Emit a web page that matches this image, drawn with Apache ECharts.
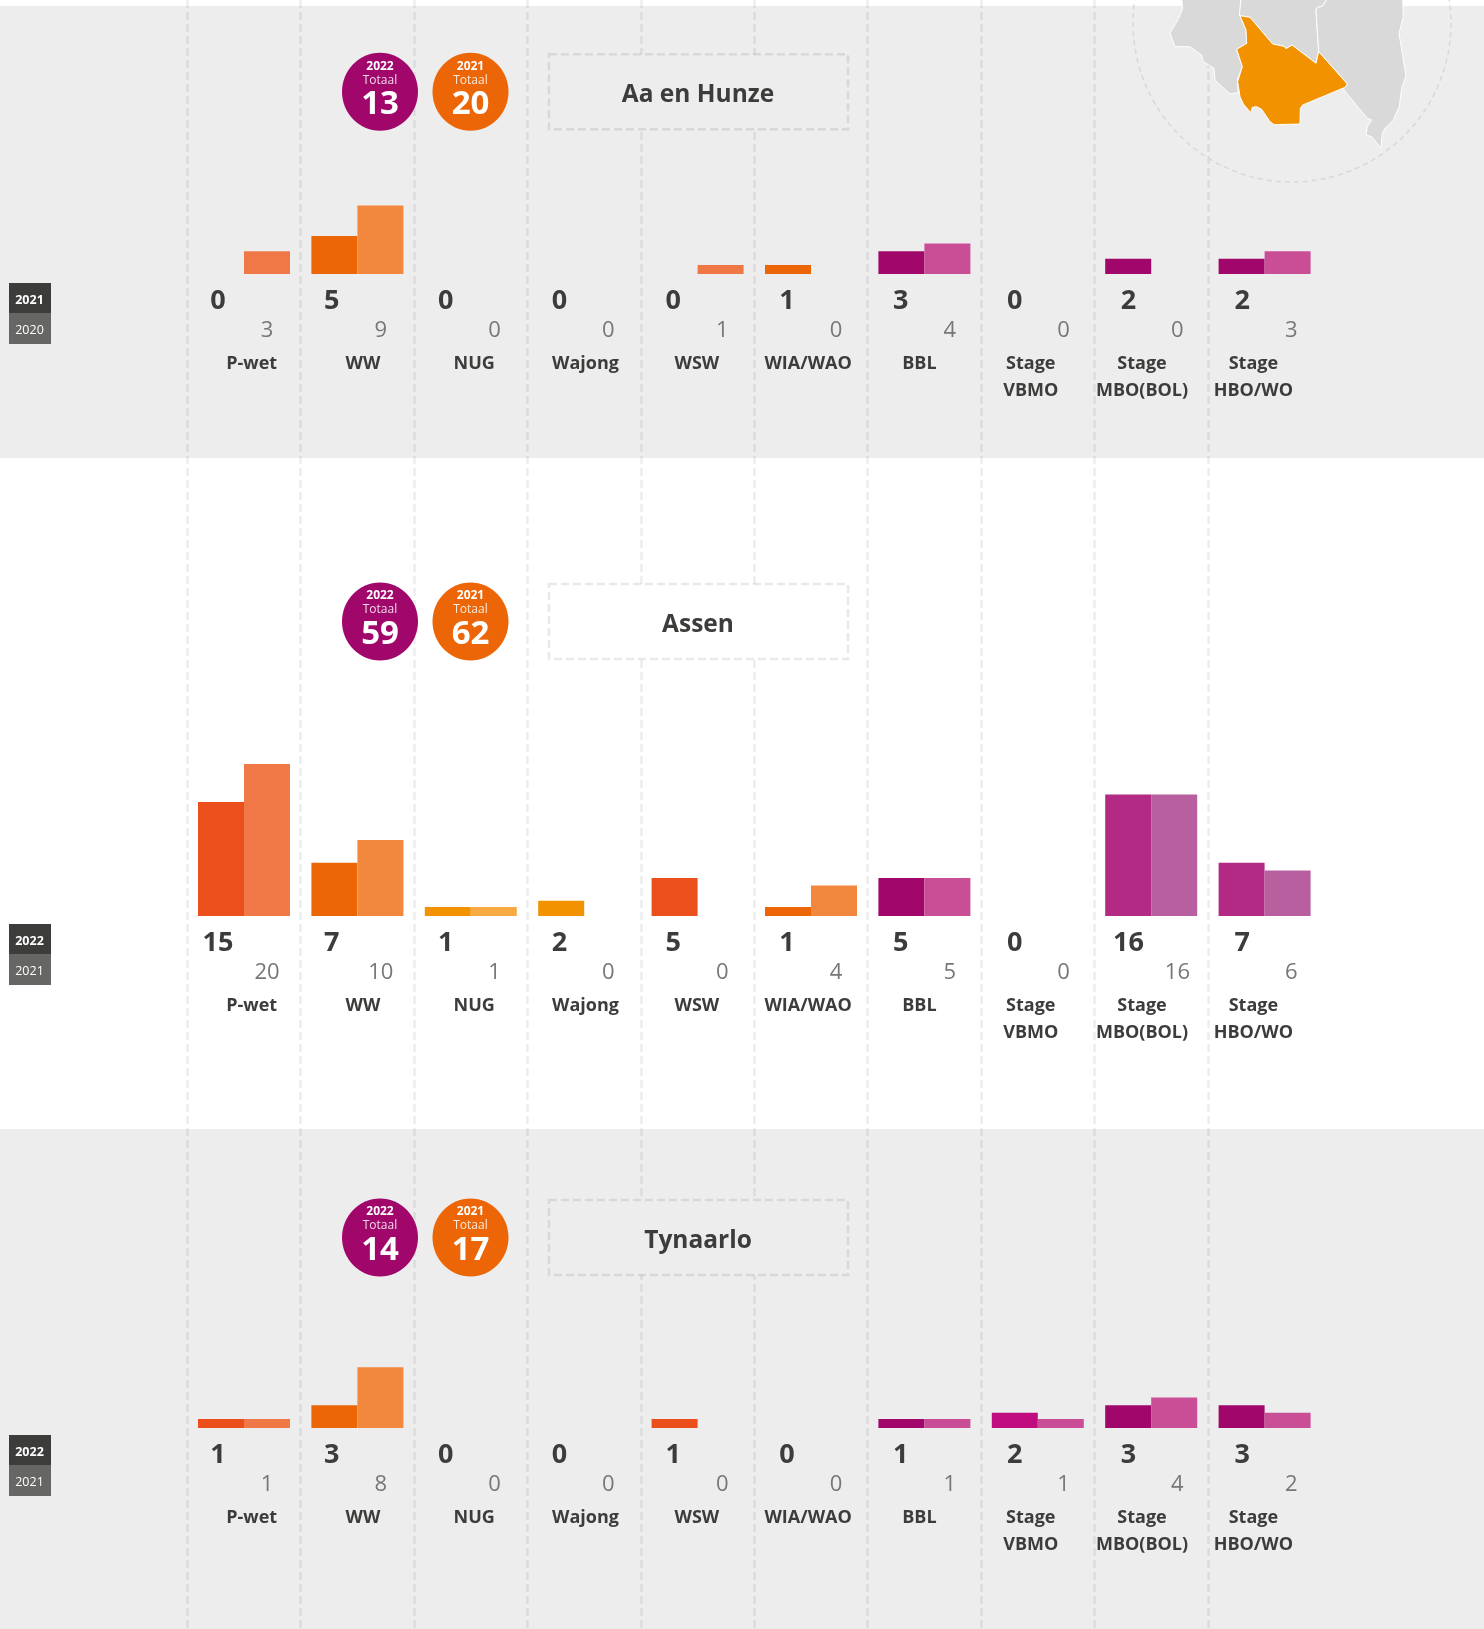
<!DOCTYPE html>
<html>
<head>
<meta charset="utf-8">
<title>Aa en Hunze, Assen, Tynaarlo</title>
<script src="https://cdn.jsdelivr.net/npm/echarts@6/dist/echarts.min.js"></script>
<style>
  html, body { margin: 0; padding: 0; background: #fff; }
  #chart { width: 1484px; height: 1629px; }
</style>
</head>
<body>
<div id="chart"></div>
<script>
// data
const categories = ['P-wet', 'WW', 'NUG', 'Wajong', 'WSW', 'WIA/WAO', 'BBL', 'Stage\nVBMO', 'Stage\nMBO(BOL)', 'Stage\nHBO/WO'];
const regions = ['Aa en Hunze', 'Assen', 'Tynaarlo'];
const totals2022 = [13, 59, 14];
const totals2021 = [20, 62, 17];
const yearsMain = ['2021', '2022', '2022'];
const yearsPrev = ['2020', '2021', '2021'];
const mainHunze = [0, 5, 0, 0, 0, 1, 3, 0, 2, 2];
const prevHunze = [3, 9, 0, 0, 1, 0, 4, 0, 0, 3];
const mainAssen = [15, 7, 1, 2, 5, 1, 5, 0, 16, 7];
const prevAssen = [20, 10, 1, 0, 0, 4, 5, 0, 16, 6];
const mainTynaarlo = [1, 3, 0, 0, 1, 0, 1, 2, 3, 3];
const prevTynaarlo = [1, 8, 0, 0, 0, 0, 1, 1, 4, 2];

const rowMain = [mainHunze, mainAssen, mainTynaarlo];
const rowPrev = [prevHunze, prevAssen, prevTynaarlo];

// kleuren per categorie
const colorsMain = ['#EB4F1C', '#EC6608', '#F39200', '#F39200', '#EB4F1C', '#EC6608', '#A1066B', '#C00C7F', '#A1066B', '#A1066B'];
const colorsPrev = ['#F07846', '#F2883E', '#F6AA41', '#F6AA41', '#F07846', '#F2883E', '#C94E95', '#C94E95', '#C94E95', '#C94E95'];
// in de Assen-rij zijn de twee stage-kolommen iets lichter
const assenStageMain = '#B32A85';
const assenStagePrev = '#B75F9F';

// layout
const FONT = '"Open Sans", sans-serif';
const DARK = '#3C3C3B';
const GREY_BG = '#EDEDED';
const BAR_LEFT = 187.3, BAR_W = 1134;
const NUM_LEFT = 187.1, NUM_W = 1138;
const LABEL_LEFT = 196, LABEL_W = 1113;
const SCALE_H = 152, SCALE_MAX = 20; // 7.6 px per eenheid
const baselines = [274, 916, 1428];
const centerYs = [91.7, 621.5, 1237.5];
const legendTops = [283, 924, 1435];

// kaartje rechtsboven, coördinaten in pixels van de uitsnede
const mapLeft = [[305,-5],[308,25],[296,55],[270,100],[285,140],[330,140],[365,165],[370,185],[402,205],[405,240],[450,282],[475,278],[472,240],[487,200],[470,148],[500,130],[498,90],[480,47],[483,-5]];
const mapMiddle = [[483,-5],[478,47],[510,52],[578,132],[612,139],[618,146],[636,135],[708,190],[716,155],[708,30],[712,22],[728,18],[742,-5]];
const mapRight = [[742,-5],[728,18],[712,22],[708,30],[716,155],[802,252],[790,268],[862,355],[875,360],[862,380],[858,405],[875,410],[903,445],[907,400],[915,385],[940,360],[958,320],[965,265],[978,228],[957,100],[970,50],[968,-5]];
const mapActive = [[480,47],[510,52],[578,132],[612,139],[618,146],[636,135],[708,190],[716,155],[802,252],[795,262],[668,315],[661,325],[660,372],[583,374],[570,365],[545,328],[530,320],[517,322],[512,338],[490,312],[480,290],[473,245],[487,200],[470,148],[500,130],[498,90]];

function toPage(pts) {
  return pts.map(p => [1080 + p[0] / 3, p[1] / 3]);
}

function text(x, y, str, size, weight, color, z) {
  return {
    type: 'text', x: x, y: y, z: z || 12,
    style: { text: str, fill: color, font: `${weight} ${size}px ${FONT}`, align: 'center', verticalAlign: 'middle' }
  };
}

const graphics = [
  { type: 'rect', z: -2, shape: { x: 0, y: 6, width: 1484, height: 452 }, style: { fill: GREY_BG } },
  { type: 'rect', z: -2, shape: { x: 0, y: 1129, width: 1484, height: 500 }, style: { fill: GREY_BG } },
  { type: 'circle', z: 8, shape: { cx: 1292, cy: 23, r: 159 }, style: { fill: 'none', stroke: '#D8D8D8', lineWidth: 1.5, lineDash: [5, 4] } }
];

[mapLeft, mapMiddle, mapRight].forEach(pts => {
  graphics.push({ type: 'polygon', z: 9, shape: { points: toPage(pts) }, style: { fill: '#D9D9D9', stroke: '#fff', lineWidth: 1, lineJoin: 'round' } });
});
graphics.push({ type: 'polygon', z: 10, shape: { points: toPage(mapActive) }, style: { fill: '#F39200', stroke: '#fff', lineWidth: 1, lineJoin: 'round' } });

regions.forEach((name, i) => {
  const cy = centerYs[i];
  const fill = i === 1 ? '#fff' : GREY_BG;
  // titelkader
  graphics.push({ type: 'rect', z: 11, shape: { x: 549, y: cy - 37.5, width: 299, height: 75 }, style: { fill: fill, stroke: 'rgba(0,0,0,0.085)', lineWidth: 2.5, lineDash: [8, 4] } });
  graphics.push(text(698, cy + 3.5, name, 24.5, 'bold', DARK));
  // totaal-bollen
  [[380, '#A1066B', '2022', totals2022[i]], [470.5, '#EC6608', '2021', totals2021[i]]].forEach(b => {
    graphics.push({ type: 'ellipse', z: 11, shape: { cx: b[0], cy: cy, rx: 38, ry: 39 }, style: { fill: b[1] } });
    graphics.push(text(b[0], cy - 25.5, b[2], 12, 'bold', '#fff'));
    graphics.push(text(b[0], cy - 11.5, 'Totaal', 12, 'normal', 'rgba(255,255,255,0.85)'));
    graphics.push(text(b[0], cy + 13, String(b[3]), 33, 'bold', '#fff'));
  });
  // jaarlabels links
  const top = legendTops[i];
  graphics.push({ type: 'rect', z: 11, shape: { x: 9, y: top, width: 42, height: 30 }, style: { fill: DARK } });
  graphics.push({ type: 'rect', z: 11, shape: { x: 9, y: top + 30, width: 42, height: 31 }, style: { fill: '#666665' } });
  graphics.push(text(29.5, top + 17, yearsMain[i], 12.5, 'bold', '#fff'));
  graphics.push(text(29.5, top + 47, yearsPrev[i], 12.5, 'normal', '#fff'));
});

const grids = [{ left: BAR_LEFT, width: 1020.6, top: 0, height: 1629 }];
const xAxes = [{
  type: 'value', gridIndex: 0, min: 0, max: 9, interval: 1,
  axisLine: { show: false }, axisTick: { show: false }, axisLabel: { show: false },
  splitLine: { show: true, lineStyle: { color: 'rgba(0,0,0,0.07)', width: 2.5, type: [8, 4] } }
}];
const yAxes = [{ type: 'value', gridIndex: 0, min: 0, max: 1, show: false }];
const series = [];

function addGrid(left, width, top, height, xAxis, yMax) {
  grids.push({ left: left, width: width, top: top, height: height });
  const idx = grids.length - 1;
  xAxes.push(Object.assign({ type: 'category', gridIndex: idx, data: categories }, xAxis));
  yAxes.push({ type: 'value', gridIndex: idx, min: 0, max: yMax, show: false });
  return idx;
}

regions.forEach((name, i) => {
  const base = baselines[i];

  // staven, waarde 1 is in het origineel net iets hoger dan de schaal
  const barIdx = addGrid(BAR_LEFT, BAR_W, base - SCALE_H, SCALE_H, { show: false }, SCALE_MAX);
  const visible = (arr, stageColor, colors) => arr.map((v, k) => ({
    value: v === 0 ? null : v,
    itemStyle: { color: i === 1 && k >= 8 ? stageColor : colors[k] }
  }));
  series.push({
    type: 'bar', name: yearsMain[i], xAxisIndex: barIdx, yAxisIndex: barIdx, barWidth: 46, barGap: 0, barMinHeight: 9,
    data: visible(rowMain[i], assenStageMain, colorsMain)
  });
  series.push({
    type: 'bar', name: yearsPrev[i], xAxisIndex: barIdx, yAxisIndex: barIdx, barWidth: 46, barGap: 0, barMinHeight: 9,
    data: visible(rowPrev[i], assenStagePrev, colorsPrev)
  });

  // getallen onder de staven, die lopen net iets breder uit dan de staven zelf
  const numIdx = addGrid(NUM_LEFT, NUM_W, base - SCALE_H, SCALE_H, { show: false }, SCALE_MAX);
  series.push({
    type: 'bar', xAxisIndex: numIdx, yAxisIndex: numIdx, barWidth: 46, barGap: 0, silent: true,
    itemStyle: { color: 'transparent' },
    data: rowMain[i],
    label: { show: true, position: 'bottom', distance: 12, offset: [-3, 0], color: DARK, fontFamily: FONT, fontWeight: 'bold', fontSize: 27, lineHeight: 30 }
  });
  series.push({
    type: 'bar', xAxisIndex: numIdx, yAxisIndex: numIdx, barWidth: 46, barGap: 0, silent: true,
    itemStyle: { color: 'transparent' },
    data: rowPrev[i],
    label: { show: true, position: 'bottom', distance: 43.5, color: '#777776', fontFamily: FONT, fontSize: 22, lineHeight: 26 }
  });

  // categorienamen, die staan juist iets dichter op elkaar
  addGrid(LABEL_LEFT, LABEL_W, base, 1, {
    axisLine: { show: false }, axisTick: { show: false },
    axisLabel: { interval: 0, margin: 75.5, color: DARK, fontFamily: FONT, fontWeight: 'bold', fontSize: 18, lineHeight: 27 }
  }, 1);
});

const chart = echarts.init(document.getElementById('chart'));
chart.setOption({
  animation: false,
  backgroundColor: '#fff',
  textStyle: { fontFamily: FONT },
  graphic: { elements: graphics },
  grid: grids,
  xAxis: xAxes,
  yAxis: yAxes,
  series: series
});
</script>
</body>
</html>
